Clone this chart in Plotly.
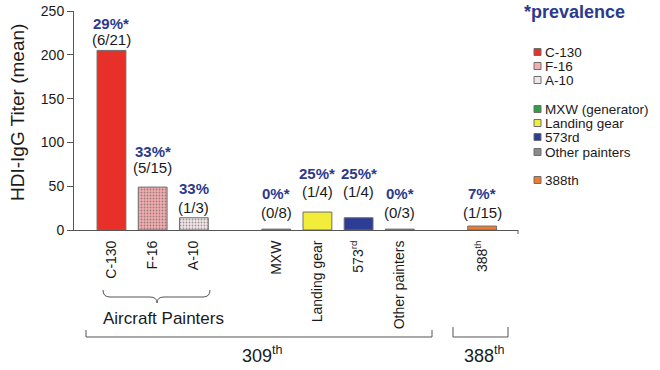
import plotly.graph_objects as go

# ---------------- data ----------------
categories = ["C-130", "F-16", "A-10", "MXW", "Landing gear", "573rd", "Other painters", "388th"]
tick_labels = ["C-130", "F-16", "A-10", "MXW", "Landing gear", "573<sup>rd</sup>", "Other painters", "388<sup>th</sup>"]
legend_labels = ["C-130", "F-16", "A-10", "MXW (generator)", "Landing gear", "573rd", "Other painters", "388th"]
titer_mean = [205, 49, 14, 1, 20.5, 14, 1, 4.5]
prevalence = ["29%*", "33%*", "33%", "0%*", "25%*", "25%*", "0%*", "7%*"]
positives = ["(6/21)", "(5/15)", "(1/3)", "(0/8)", "(1/4)", "(1/4)", "(0/3)", "(1/15)"]
y_ticks = [0, 50, 100, 150, 200, 250]

# ---------------- layout helpers ----------------
x_pos = [0, 1, 2, 4, 5, 6, 7, 9]
colors = ["#e8302a", "#f2aeb0", "#f3e6e9", "#2f9e44", "#f2ec3a", "#2d3d96", "#8a8a8a", "#f07a2e"]
pat_shape = ["", ".", ".", "", "", "", "", ""]
pat_fg = ["#e8302a", "#eb9da0", "#ead9dd", "#2f9e44", "#f2ec3a", "#2d3d96", "#8a8a8a", "#f07a2e"]
pat_bg = ["#e8302a", "#f6bec0", "#f7eff1", "#2f9e44", "#f2ec3a", "#2d3d96", "#8a8a8a", "#f07a2e"]
pct_label_y = [236, 90, 47, 42, 65, 65, 42, 42]
frac_label_y = [217, 71, 26, 20.5, 43.5, 43.5, 20.5, 20.5]
legend_rows_px = [52, 66, 80, 109, 123, 137, 152, 180]

FONT = "Arial, 'Liberation Sans', Helvetica, sans-serif"
NAVY = "#2b3a8c"
INK = "#1a1a1a"
W, H = 660, 370
L, R, T, B = 74, 518, 11, 230


def px(x):
    return (x - L) / (R - L)


def py(y):
    return (B - y) / (B - T)


def P(x, y):
    return f"{px(x):.5f},{py(y):.5f}"


def note(x, y, text, size, color=INK, xanchor="center", **kw):
    return dict(x=px(x), y=py(y), xref="paper", yref="paper", text=text, showarrow=False,
                xanchor=xanchor, yanchor="middle", font=dict(family=FONT, size=size, color=color), **kw)


fig = go.Figure()
fig.add_trace(go.Bar(
    x=x_pos, y=titer_mean, width=0.7, customdata=categories,
    marker=dict(color=colors, line=dict(color="#6e6e6e", width=1),
                pattern=dict(shape=pat_shape, fgcolor=pat_fg, bgcolor=pat_bg, size=3, solidity=0.3)),
    showlegend=False, hovertemplate="%{customdata}: %{y}<extra></extra>",
))

ann = []
for xi, p, f, yp, yf in zip(x_pos, prevalence, positives, pct_label_y, frac_label_y):
    ann.append(dict(x=xi, y=yp, xref="x", yref="y", text=f"<b>{p}</b>", showarrow=False,
                    xanchor="center", yanchor="middle", font=dict(family=FONT, size=15, color=NAVY)))
    ann.append(dict(x=xi, y=yf, xref="x", yref="y", text=f, showarrow=False,
                    xanchor="center", yanchor="middle", font=dict(family=FONT, size=15, color=INK)))

ann.append(note(17, 113, "HDI-IgG Titer (mean)", 19, textangle=-90))
ann.append(note(163, 318, "Aircraft Painters", 17))
ann.append(note(262, 354, "309<sup>th</sup>", 18))
ann.append(note(484, 354, "388<sup>th</sup>", 18))
ann.append(note(522, 12, "<b>*prevalence</b>", 18, color=NAVY, xanchor="left"))

shapes = []
# manual legend (square + label)
for lab, c, ry in zip(legend_labels, colors, legend_rows_px):
    shapes.append(dict(type="rect", xref="paper", yref="paper",
                       x0=px(534), x1=px(541), y0=py(ry + 3.5), y1=py(ry - 3.5),
                       fillcolor=c, line=dict(color="#6e6e6e", width=1)))
    ann.append(note(544, ry, lab, 13.5, xanchor="left", borderpad=0))

line_style = dict(color="#555555", width=1)
shapes.append(dict(type="line", xref="paper", yref="paper", x0=1, x1=1, y0=0, y1=py(234), line=line_style))
brace = ("M " + P(103, 290) + " Q " + P(103, 297) + " " + P(110, 297) + " L " + P(150, 297) +
         " Q " + P(157, 297) + " " + P(157, 303) + " Q " + P(157, 297) + " " + P(164, 297) +
         " L " + P(203, 297) + " Q " + P(210, 297) + " " + P(210, 290))
shapes.append(dict(type="path", xref="paper", yref="paper", path=brace, line=line_style))
shapes.append(dict(type="path", xref="paper", yref="paper",
                   path="M " + P(86, 330) + " L " + P(86, 337) + " L " + P(432, 337) + " L " + P(432, 330),
                   line=line_style))
shapes.append(dict(type="path", xref="paper", yref="paper",
                   path="M " + P(453, 327) + " L " + P(453, 337) + " L " + P(508, 337) + " L " + P(508, 327),
                   line=line_style))

fig.update_layout(
    width=W, height=H,
    margin=dict(l=L, r=W - R, t=T, b=H - B, pad=0, autoexpand=False),
    paper_bgcolor="white", plot_bgcolor="white",
    font=dict(family=FONT, size=14, color=INK),
    annotations=ann, shapes=shapes,
    xaxis=dict(range=[-0.91, 9.87], tickvals=x_pos, ticktext=tick_labels, tickangle=-90,
               showline=True, linecolor="#555555", linewidth=1, ticks="", showgrid=False,
               zeroline=False, tickfont=dict(size=14, color=INK), automargin=False,
               ticklabelstandoff=4),
    yaxis=dict(range=[0, 250], tickvals=y_ticks, showline=True, linecolor="#555555", linewidth=1,
               ticks="outside", ticklen=6, tickcolor="#555555", showgrid=False, zeroline=False,
               tickfont=dict(size=14, color=INK), automargin=False),
    bargap=0.3,
)

fig.write_html("out.html", config={"displayModeBar": False},
               post_script="document.body.style.margin='0';")
